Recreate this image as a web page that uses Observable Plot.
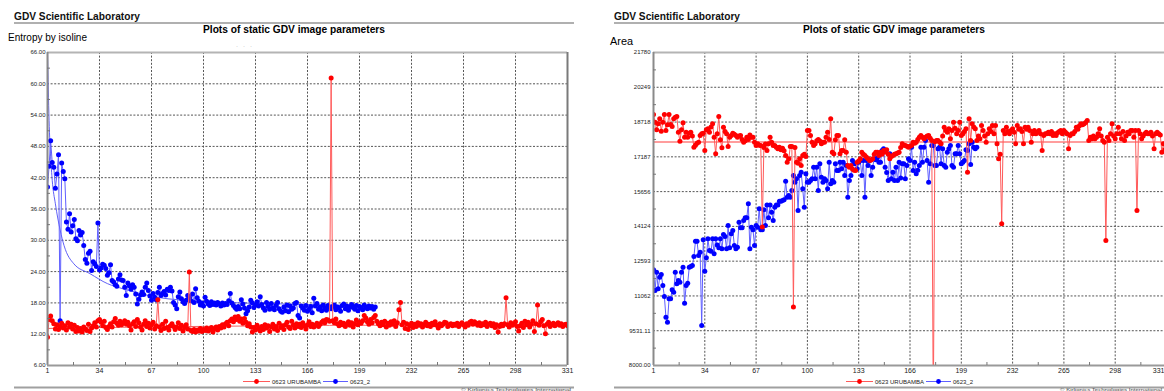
<!DOCTYPE html>
<html>
<head>
<meta charset="utf-8">
<script src="https://cdn.jsdelivr.net/npm/d3@7"></script>
<script src="https://cdn.jsdelivr.net/npm/@observablehq/plot@0.6"></script>
<style>
  html, body { margin: 0; padding: 0; background: #fff; }
  body { width: 1164px; height: 391px; overflow: hidden; font-family: "Liberation Sans", Arial, sans-serif; }
  #page { position: relative; width: 1164px; height: 391px; overflow: hidden; }
  .chart { position: absolute; top: 44px; }
  #overlay { position: absolute; left: 0; top: 0; pointer-events: none; }
</style>
</head>
<body>
<div id="page"></div>
<script>
// ---- Tick values and labels ----
const xTicks = [1, 34, 67, 100, 133, 166, 199, 232, 265, 298, 331];
const entropyTicks = [6, 12, 18, 24, 30, 36, 42, 48, 54, 60, 66];
const entropyTickLabels = ["6.00", "12.00", "18.00", "24.00", "30.00", "36.00", "42.00", "48.00", "54.00", "60.00", "66.00"];
const areaTicks = [8000, 9531.11, 11062.22, 12593.33, 14124.44, 15655.56, 17186.67, 18717.78, 20248.89, 21780];
const areaTickLabels = ["8000.00", "9531.11", "11062", "12593", "14124", "15656", "17187", "18718", "20249", "21780"];

// ---- Series names ----
const seriesNames = ["0623 URUBAMBA", "0623_2"];

// ---- Entropy by isoline, one value per image ----
const entropyUrubamba = [
  11.4,14.8,15.5,14.6,14.0,13.0,13.8,12.9,13.5,14.1,
  13.2,13.6,12.8,14.2,13.4,13.9,13.0,13.7,12.5,13.3,
  12.6,13.1,12.4,13.4,13.0,12.7,13.9,12.5,13.2,13.6,
  14.2,13.4,14.6,14.8,14.3,13.6,14.5,13.3,12.9,13.5,
  14.0,13.4,14.4,15.0,14.1,13.7,14.5,13.8,14.2,14.6,
  13.9,14.3,13.6,12.8,14.0,14.4,13.5,14.8,14.2,13.4,
  12.8,13.9,14.6,13.5,14.1,13.2,13.8,14.3,13.0,13.6,
  18.6,13.4,12.7,13.9,13.1,14.5,13.3,12.8,13.6,14.0,
  13.5,12.9,13.4,14.2,13.1,13.7,12.6,13.3,13.8,13.0,
  23.9,12.7,12.5,12.9,12.4,12.8,12.6,13.1,12.5,12.9,
  12.7,13.2,12.6,12.9,13.3,12.4,13.0,13.4,12.8,13.5,
  13.2,13.8,13.4,14.0,14.3,13.6,14.6,14.9,14.4,15.3,
  14.8,15.4,14.5,14.9,14.1,15.0,14.3,13.6,14.0,13.4,
  12.4,13.3,12.8,13.7,13.1,12.6,13.5,12.9,13.8,13.2,
  13.6,12.5,13.4,13.9,13.0,13.5,12.7,14.1,13.3,13.6,
  12.9,13.8,14.3,13.4,13.1,14.5,13.7,13.2,14.0,13.5,
  13.9,13.3,14.2,13.6,13.0,13.8,14.4,13.5,13.9,13.4,
  13.7,14.1,13.5,13.9,14.3,14.6,14.2,14.8,14.7,14.5,
  61.1,14.6,14.2,14.9,14.0,13.6,14.3,13.8,14.1,13.5,
  13.9,14.4,13.7,14.2,13.4,14.0,14.7,13.8,14.3,14.1,
  14.6,15.6,15.1,14.4,13.9,14.8,14.2,15.2,15.6,14.5,
  14.0,13.6,14.3,13.8,14.5,13.4,14.1,13.7,14.4,13.9,
  14.6,13.5,14.2,16.7,18.1,13.8,14.3,13.1,14.0,12.9,
  13.6,14.1,13.3,13.9,13.5,14.2,13.7,14.0,13.4,13.8,
  14.3,13.6,13.9,13.5,14.1,13.8,14.4,13.7,13.2,14.0,
  13.6,13.9,14.3,14.2,13.5,13.8,14.0,13.6,13.9,13.7,
  14.1,13.5,13.9,14.2,13.8,13.4,14.0,13.7,14.3,14.5,
  13.9,14.4,14.1,13.7,14.2,13.6,14.0,13.8,14.3,13.5,
  13.9,14.1,13.6,14.0,13.3,13.8,12.4,13.5,13.9,13.6,
  14.0,19.0,13.8,13.4,14.2,13.7,13.9,14.4,13.5,12.6,
  13.6,14.1,13.3,14.5,13.8,14.3,13.4,13.9,14.6,12.5,
  14.0,17.6,13.7,14.4,14.8,13.6,12.1,13.9,14.3,13.5,
  13.8,14.1,13.6,13.9,14.2,13.7,14.0,13.5,13.8,13.9,13.6
];
const entropy2 = [
  40.2,44.2,49.1,44.9,44.0,40.0,42.7,46.4,14.6,44.8,
  43.2,41.8,33.5,32.1,35.1,31.6,32.8,34.0,30.3,29.9,
  31.9,31.0,31.5,29.0,26.3,25.6,27.5,27.9,24.2,25.9,
  25.5,25.0,33.3,24.3,24.7,25.4,25.2,24.6,23.3,23.8,
  25.3,22.3,22.0,21.5,21.2,22.6,23.4,22.4,22.3,21.0,
  19.4,21.8,21.3,20.6,21.5,21.0,19.7,17.8,18.7,19.5,
  20.1,19.6,21.0,21.8,20.4,19.3,18.5,19.8,19.1,18.6,
  20.0,21.0,19.4,19.8,20.2,19.5,20.6,20.4,21.0,20.3,
  18.1,17.6,16.9,19.2,20.1,18.8,18.2,17.9,18.5,19.4,
  19.1,18.4,19.7,18.1,20.7,19.0,18.3,17.6,18.0,17.4,
  19.1,18.3,17.8,17.5,18.2,17.7,18.0,17.6,18.1,17.8,
  17.4,18.0,17.6,17.9,17.7,18.4,19.8,18.0,17.5,17.1,
  16.8,17.3,16.9,18.6,17.8,17.0,15.9,16.5,17.2,18.5,
  18.0,17.1,17.6,18.2,17.4,19.2,17.7,17.0,16.6,18.1,
  17.3,16.8,17.9,17.0,16.7,17.5,18.1,16.9,16.4,16.2,
  17.2,16.5,17.6,16.3,17.4,16.8,17.0,17.9,18.1,15.6,
  15.1,17.4,17.0,16.6,17.5,16.4,16.8,17.3,16.1,18.9,
  17.4,17.9,16.8,17.2,16.5,17.6,17.0,16.6,17.5,17.1,
  16.9,17.3,17.6,16.7,17.2,17.0,16.4,17.5,17.8,16.9,
  17.4,16.6,17.2,17.7,17.1,16.8,17.5,16.5,17.3,17.0,
  16.7,17.6,17.2,16.9,17.4,17.0,17.3,16.8,17.2
];
// Trend curves drawn through the entropy series: [image, value]
const entropyTrendUrubamba = [[1, 13.1], [40, 13.3], [100, 13.5], [180, 13.7], [331, 13.8]];
const entropyTrend2 = [[1, 66.5], [1.5, 59], [2, 53], [3, 46], [4, 41.5], [6, 37], [9, 32], [11.5, 29],
  [17.7, 25.5], [28, 23.6], [39, 21.7], [49, 20.7], [60, 19.8], [70, 19.1], [100, 18.3], [150, 17.8], [209, 17.4]];

// ---- Area, one value per image ----
const areaUrubamba = [
  19049,18710,18376,18640,18860,18314,18710,19049,18345,18600,
  19049,18610,18520,18860,18930,18960,18270,17875,18376,18683,
  18050,18270,18050,18230,18270,18100,17611,17700,17790,17830,
  18125,18200,18230,17465,18376,18420,18270,18500,18640,18050,
  17319,18200,18960,17935,17583,18490,18300,18200,17641,18050,
  18125,18230,18180,18125,18050,18100,18125,17950,17830,17900,
  18050,17950,18150,18050,18050,17830,17685,17760,17700,17685,
  14100,17600,17750,17465,17760,18050,17830,17690,17690,17610,
  17540,17610,17500,17560,17450,17244,16949,17100,17641,17641,
  10570,17600,16950,16900,17100,16804,17250,17300,17200,18345,
  18345,18125,17830,17685,17760,17900,17950,17880,17760,17830,
  17830,18050,18270,17950,18860,17390,17320,17935,18125,18125,
  17320,17465,17465,17935,17390,16804,16730,16804,16650,16600,
  16584,16950,17000,17099,17390,17300,17250,17170,17100,17024,
  17050,17099,17300,17390,17390,17250,17390,17300,17465,17400,
  17500,17300,17100,17200,17245,17300,17320,17350,17390,17600,
  17760,17700,17685,17650,17610,17650,17685,17830,17780,17830,
  17950,18050,18125,18050,17980,18050,18100,18125,18000,17905,
  6000,17850,17905,17905,17830,17760,18100,18490,18350,18270,
  18420,17980,18350,18710,18450,18200,18350,18710,18125,18200,
  18300,18420,16510,18860,17905,18640,18500,18420,17905,18100,
  17980,18565,18345,18100,17830,18200,18420,18300,18565,18200,
  18565,17760,17100,17300,14240,18345,18200,18490,18300,18200,
  18350,18420,18270,17760,18565,18400,18420,18300,17760,18490,
  18400,18490,18350,17830,18200,18345,18200,18270,18350,18200,
  17465,18125,18200,18200,18270,18200,18300,18125,18200,18125,
  18250,18300,18345,18200,18345,18270,18200,17540,18125,18200,
  18200,18300,18490,18400,18560,18640,18600,18640,18700,18785,
  17905,18050,17980,18100,17980,18050,18200,18420,18100,17905,
  17830,13500,18050,17905,18200,18640,18100,17980,18200,18490,
  18200,17980,18300,17905,18100,18270,18200,18345,18345,18050,
  18345,14820,18345,18200,17980,18100,18200,18270,18200,18200,
  18270,18100,17540,18200,18270,18200,18150,17390,17760,17500,17650
];
const area2 = [
  12211,11302,12108,11375,11889,12006,11522,11037,10128,9908,
  10935,10935,11331,11228,12108,11595,11742,11669,12100,12328,
  10743,11522,11625,12328,12358,12402,12798,13472,13472,12842,
  12988,9761,13531,12152,12739,13575,13062,13033,13575,12916,
  13575,13300,13180,13575,13136,13766,13678,13136,14162,13180,
  13797,13942,13282,13136,13208,14308,14061,14061,14383,14500,
  14500,15118,13136,14090,13974,13282,14162,14090,14898,13974,
  13974,14854,14162,15062,14500,15062,14751,14383,14968,15062,
  15062,15233,15233,15263,15300,16113,15410,15484,15410,15704,
  16364,16070,16218,14822,16364,16510,15777,14968,16437,16070,
  16070,16144,16218,16730,16218,16730,15704,16877,16290,16070,
  16218,16144,15777,16950,15997,16144,16070,16877,16584,16584,
  16950,16658,16950,16364,16804,15410,16144,16364,17024,16877,
  16877,16658,16950,17024,16364,17024,15410,17024,16804,17024,
  16364,16730,17097,17053,17141,16950,16950,17465,17540,16730,
  16500,16144,17320,16218,16510,16144,16730,16144,16950,16260,
  16877,16877,16218,16804,17100,17024,17610,16584,16950,16437,
  16600,16804,17610,16950,17610,17905,17024,16070,16877,17685,
  17685,16804,16804,17540,17610,16877,17540,16804,16730,17390,
  17540,17685,16804,16730,17320,17320,17685,17320,16877,16950,
  17024,17500,17465,17760,16850,17830,17610,17540,17610
];
// Mean level of the first series
const areaMeanUrubamba = 17843;

// ---- Colours ----
const RED = "#ff0000", RED_LINE = "#ff5a5a", BLUE = "#0000ff", BLUE_LINE = "#5f5fff";
const FONT = "'Liberation Sans', Arial, sans-serif";

const toPoints = vals => vals.map((v, i) => ({n: i + 1, v}));
const xMinor = d3.pairs(xTicks).map(([a, b]) => (a + b) / 2);

function panel({yTicks, yLabels, extra, width, marginRight, tickPadding, red, blue, lastLabelEnd}) {
  const r = toPoints(red), b = toPoints(blue);
  const yDomain = [yTicks[0], yTicks[yTicks.length - 1]];
  const yMinor = d3.pairs(yTicks).map(([a, c]) => (a + c) / 2);
  const grid = {stroke: "#555", strokeOpacity: 1, strokeDasharray: "2,1.6", strokeWidth: 1};
  const xLabelTicks = lastLabelEnd ? xTicks.slice(0, -1) : xTicks;
  return Plot.plot({
    width, height: 336,
    marginLeft: 47, marginRight, marginTop: 8, marginBottom: 15,
    x: {domain: [1, 331]},
    y: {domain: yDomain},
    style: {background: "transparent", fontFamily: FONT, color: "#222", overflow: "visible"},
    marks: [
      Plot.gridY(yTicks.slice(1, -1), grid),
      Plot.gridX(xTicks.slice(1, -1), grid),
      Plot.ruleY([yDomain[1]], {stroke: "#b4b4b4", strokeWidth: 2}),
      Plot.ruleX([331], {stroke: "#7a7a7a", strokeWidth: 2}),
      ...extra,
      Plot.line(b, {x: "n", y: "v", stroke: BLUE_LINE, strokeWidth: 1, clip: true}),
      Plot.dot(b, {x: "n", y: "v", r: 2.5, fill: BLUE, stroke: "none", clip: true}),
      Plot.line(r, {x: "n", y: "v", stroke: RED_LINE, strokeWidth: 1, clip: true}),
      Plot.dot(r, {x: "n", y: "v", r: 2.5, fill: RED, stroke: "none", clip: true}),
      Plot.ruleX([1], {stroke: "#8a8a8a", strokeWidth: 2}),
      Plot.ruleY([yDomain[0]], {stroke: "#9a9a9a", strokeWidth: 2}),
      Plot.axisY(yTicks, {tickSize: 0, tickPadding, fontSize: 6, label: null,
        tickFormat: d => yLabels[yTicks.indexOf(d)]}),
      Plot.axisY(yMinor, {tickSize: -3, tickFormat: () => "", label: null, stroke: "#777"}),
      Plot.axisX(xLabelTicks, {tickSize: 0, tickPadding: 3, fontSize: 7, label: null}),
      ...(lastLabelEnd ? [Plot.axisX(xTicks.slice(-1), {tickSize: 0, tickPadding: 3, fontSize: 7, label: null,
        textAnchor: "end", dx: -2})] : []),
      Plot.axisX(xMinor, {tickSize: -3, tickFormat: () => "", label: null, stroke: "#777"})
    ]
  });
}

const page = document.getElementById("page");

const leftChart = panel({
  yTicks: entropyTicks, yLabels: entropyTickLabels,
  width: 575, marginRight: 8, tickPadding: 2,
  red: entropyUrubamba, blue: entropy2,
  extra: [
    Plot.line(entropyTrend2, {x: d => d[0], y: d => d[1], stroke: "#4f4ff5", strokeWidth: 0.9, curve: "monotone-x", clip: true}),
    Plot.line(entropyTrendUrubamba, {x: d => d[0], y: d => d[1], stroke: "#f05050", strokeWidth: 0.9, clip: true})
  ]
});
leftChart.classList.add("chart");
leftChart.style.left = "0px";
page.appendChild(leftChart);

const rightChart = panel({
  yTicks: areaTicks, yLabels: areaTickLabels,
  width: 560, marginRight: 0, tickPadding: 3,
  red: areaUrubamba, blue: area2, lastLabelEnd: true,
  extra: [
    Plot.ruleY([areaMeanUrubamba], {stroke: "#ff7c7c", strokeWidth: 1.4})
  ]
});
rightChart.classList.add("chart");
rightChart.style.left = "606px";
page.appendChild(rightChart);

// ---- Headings, rules, legends and footer ----
const svg = d3.select(page).append("svg")
  .attr("id", "overlay").attr("width", 1164).attr("height", 391)
  .style("font-family", FONT);

function decorate(ox, legendX, axisTitle, titleY, titleLen) {
  svg.append("text").attr("x", 14 + ox).attr("y", 20).attr("font-size", 11).attr("fill", "#111")
    .attr("font-weight", "bold").attr("textLength", 126).attr("lengthAdjust", "spacingAndGlyphs")
    .text("GDV Scientific Laboratory");
  svg.append("line").attr("x1", 14 + ox).attr("x2", ox === 0 ? 574 : 1164).attr("y1", 23).attr("y2", 23)
    .attr("stroke", "#b0b0b0").attr("stroke-width", 2);
  svg.append("text").attr("x", 203 + ox).attr("y", 33).attr("font-size", 11).attr("fill", "#000")
    .attr("font-weight", "bold").attr("textLength", 182).attr("lengthAdjust", "spacingAndGlyphs")
    .text("Plots of static GDV image parameters");
  svg.append("text").attr("x", ox === 0 ? 8 : 610).attr("y", titleY).attr("font-size", 11).attr("fill", "#000")
    .attr("textLength", titleLen).attr("lengthAdjust", "spacingAndGlyphs")
    .text(axisTitle);
  svg.append("line").attr("x1", 14 + ox).attr("x2", ox === 0 ? 574 : 1164).attr("y1", 387.5).attr("y2", 387.5)
    .attr("stroke", "#a0a0a0").attr("stroke-width", 2);
  // legend
  const ly = 381.5;
  const items = [
    {name: seriesNames[0], line: RED_LINE, dot: RED, x: legendX, w: 27, tx: legendX + 29},
    {name: seriesNames[1], line: BLUE_LINE, dot: BLUE, x: legendX + 80, w: 25, tx: legendX + 107}
  ];
  for (const it of items) {
    svg.append("line").attr("x1", it.x).attr("x2", it.x + it.w).attr("y1", ly).attr("y2", ly)
      .attr("stroke", it.line).attr("stroke-width", 1);
    svg.append("circle").attr("cx", it.x + it.w / 2).attr("cy", ly).attr("r", 2.4).attr("fill", it.dot);
    svg.append("text").attr("x", it.tx).attr("y", ly + 2.2).attr("font-size", 6).attr("fill", "#222")
      .text(it.name);
  }
  // footer
  svg.append("text").attr("x", ox === 0 ? 461 : 1060).attr("y", 390.8).attr("font-size", 4).attr("fill", "#444")
    .attr("textLength", ox === 0 ? 110 : 102).attr("lengthAdjust", "spacingAndGlyphs")
    .text("© Kirlionics Technologies International");
}
decorate(0, 243, "Entropy by isoline", 41, 79);
decorate(600, 846, "Area", 45, 23);
// faint marks beneath the left subtitle
svg.append("text").attr("x", 236).attr("y", 48).attr("font-size", 6).attr("fill", "#9a9a9a")
  .attr("letter-spacing", 5).text("···");
</script>
</body>
